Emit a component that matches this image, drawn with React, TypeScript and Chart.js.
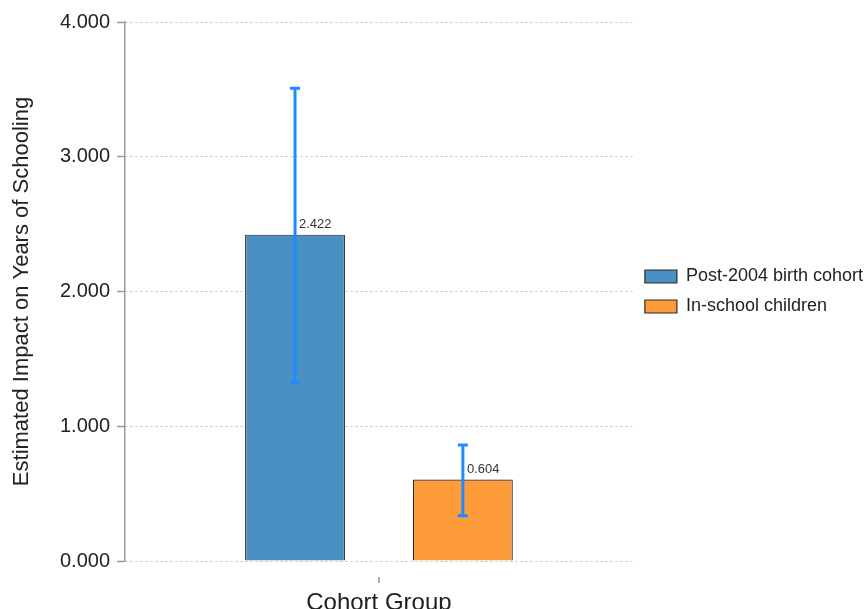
import React, { useEffect, useRef } from "react";
import { Chart, registerables } from "chart.js";

Chart.register(...registerables);

const categories = ["Cohort Group"];
const seriesLabels = ["Post-2004 birth cohort", "In-school children"];
const estimates = [2.422, 0.604];
const ciLow = [1.328, 0.336];
const ciHigh = [3.508, 0.861];
const yTickValues = [0, 1, 2, 3, 4];
const barColors = ["#4a90c2", "#fd9a3a"];

const FONT = "'Liberation Sans', Arial, Helvetica, sans-serif";

const errorBarPlugin = {
  id: "errorBars",
  afterDatasetsDraw(chart: any) {
    const ctx = chart.ctx;
    const y = chart.scales.y;
    chart.data.datasets.forEach((ds: any, i: number) => {
      const meta = chart.getDatasetMeta(i);
      meta.data.forEach((el: any) => {
        const x = el.x;
        const yHi = y.getPixelForValue(ciHigh[i]);
        const yLo = y.getPixelForValue(ciLow[i]);
        ctx.save();
        ctx.strokeStyle = "#1e8cff";
        ctx.lineWidth = 3;
        ctx.lineCap = "butt";
        ctx.beginPath();
        ctx.moveTo(x, yHi);
        ctx.lineTo(x, yLo);
        ctx.moveTo(x - 5, yHi);
        ctx.lineTo(x + 5, yHi);
        ctx.moveTo(x - 5, yLo);
        ctx.lineTo(x + 5, yLo);
        ctx.stroke();
        ctx.fillStyle = "#333333";
        ctx.font = `13px ${FONT}`;
        ctx.textAlign = "left";
        ctx.textBaseline = "alphabetic";
        ctx.fillText(estimates[i].toFixed(3), x + 4, el.y - 7);
        ctx.restore();
      });
    });
    // small category tick below the axis
    const xs = chart.scales.x;
    const cx = xs.getPixelForValue(0);
    const b = chart.chartArea.bottom;
    ctx.save();
    ctx.strokeStyle = "#999999";
    ctx.lineWidth = 1.5;
    ctx.beginPath();
    ctx.moveTo(cx, b + 16);
    ctx.lineTo(cx, b + 22);
    ctx.stroke();
    ctx.restore();
  },
};

export default function App() {
  const ref = useRef<HTMLCanvasElement>(null);

  useEffect(() => {
    if (!ref.current) return;
    const chart = new Chart(ref.current, {
      type: "bar",
      data: {
        labels: categories,
        datasets: seriesLabels.map((label, i) => ({
          label,
          data: [estimates[i]],
          backgroundColor: barColors[i],
          borderColor: "#2a2a2a",
          borderWidth: 1.2,
          categoryPercentage: 0.661,
          barPercentage: 0.595,
        })),
      },
      options: {
        animation: false,
        responsive: true,
        maintainAspectRatio: false,
        layout: { padding: { top: 22, left: 0, right: -6, bottom: 0 } },
        plugins: {
          tooltip: { enabled: false },
          legend: {
            position: "right",
            fullSize: false,
            maxWidth: 320,
            labels: {
              boxWidth: 32,
              boxHeight: 13,
              padding: 12,
              color: "#222222",
              font: { family: FONT, size: 18 },
            },
          },
        },
        scales: {
          x: {
            afterFit: (s: any) => {
              s.height = 48;
            },
            grid: { display: false },
            border: { display: false },
            ticks: { display: false },
            title: {
              display: true,
              text: "Cohort Group",
              color: "#222222",
              padding: 0,
              font: { family: FONT, size: 24, lineHeight: 0.5 },
            },
          },
          y: {
            min: 0,
            max: 4,
            afterFit: (s: any) => {
              s.width = 125;
            },
            afterBuildTicks: (s: any) => {
              s.ticks = yTickValues.map((v) => ({ value: v }));
            },
            ticks: {
              padding: 7,
              color: "#222222",
              font: { family: FONT, size: 20 },
              callback: (v: any) => Number(v).toFixed(3),
            },
            grid: {
              color: "#bdbdbd",
              lineWidth: 1,
              tickLength: 8,
              tickColor: "#999999",
              tickWidth: 1.5,
              tickBorderDash: [],
            },
            border: {
              display: true,
              color: "#999999",
              width: 1.5,
              dash: [2, 3],
            },
            title: {
              display: true,
              text: "Estimated Impact on Years of Schooling",
              color: "#222222",
              padding: { top: 9, bottom: 0 },
              font: { family: FONT, size: 22 },
            },
          },
        },
      },
      plugins: [errorBarPlugin],
    });
    return () => chart.destroy();
  }, []);

  return (
    <div style={{ position: "fixed", left: 0, top: 0, width: "867px", height: "609px", background: "#ffffff" }}>
      <canvas ref={ref} />
    </div>
  );
}
